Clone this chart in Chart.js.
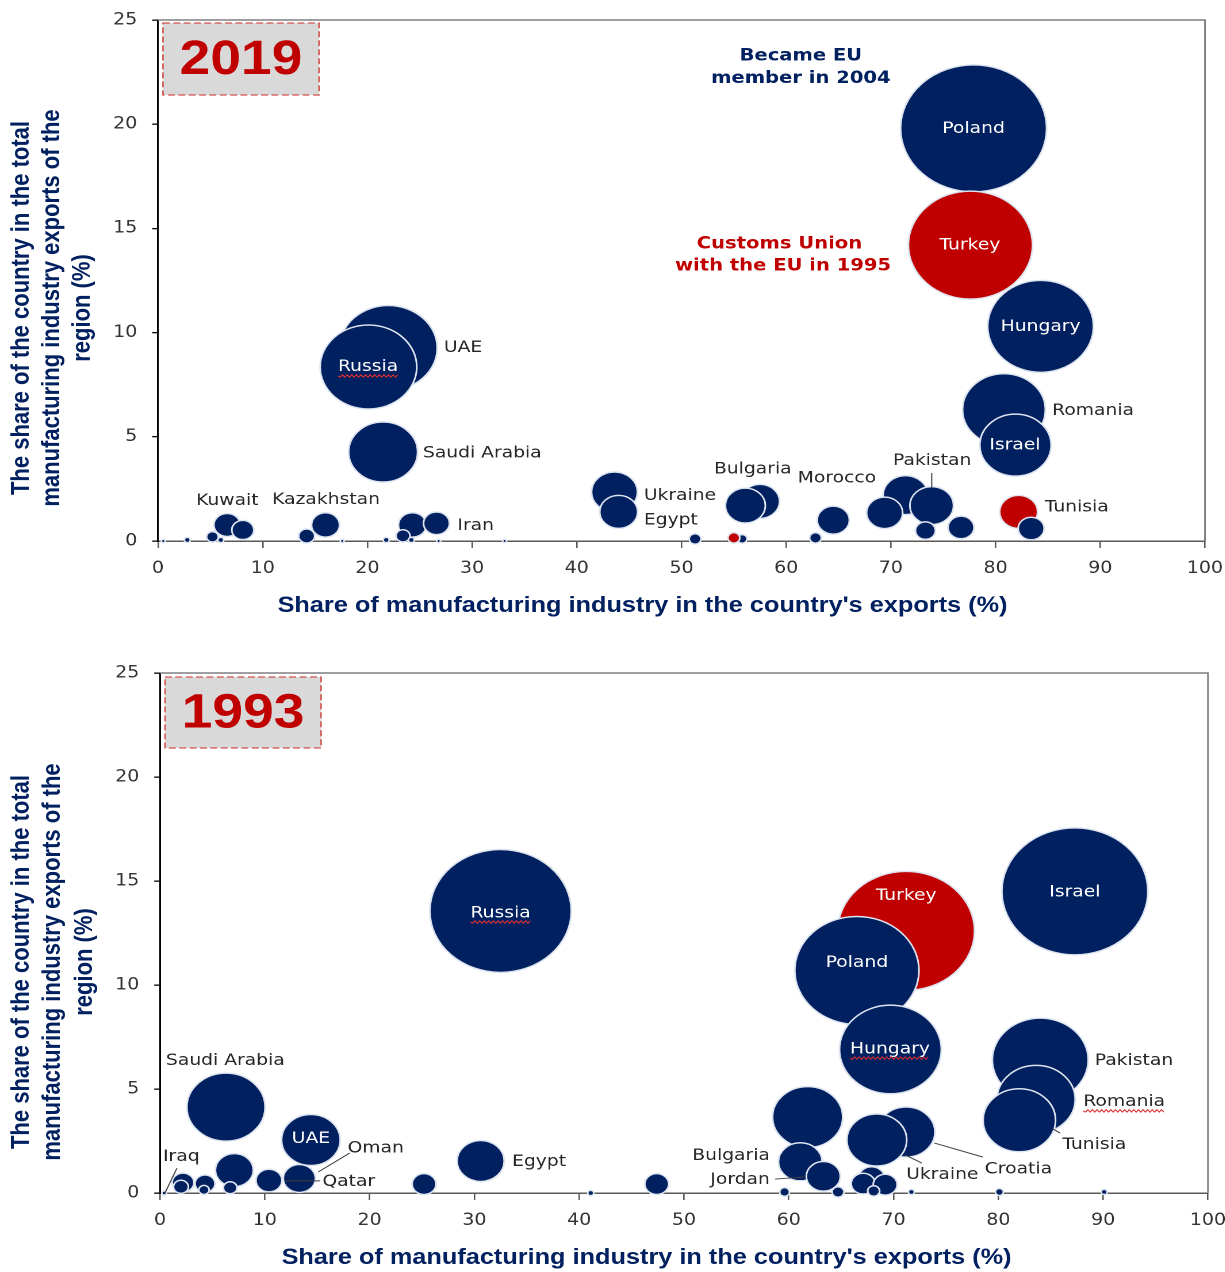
<!DOCTYPE html>
<html lang="en">
<head>
<meta charset="UTF-8">
<title>Manufacturing exports of the region · 2019 vs 1993</title>
<script src="https://cdn.jsdelivr.net/npm/chart.js@4.4.4/dist/chart.umd.min.js"></script>
<style>
  html, body { margin: 0; padding: 0; background: #fff; overflow: hidden; }
  /* The source picture is stretched sideways (round bubbles come out as
     ellipses), so each chart is drawn narrower and widened with CSS. */
  .panel { width: 1065px; height: 636px; transform: scaleX(1.15); transform-origin: 0 0; }
</style>
</head>
<body>
<div class="panel"><canvas id="chart2019"></canvas></div>
<div class="panel"><canvas id="chart1993"></canvas></div>
<script>
const xTicks = [0, 10, 20, 30, 40, 50, 60, 70, 80, 90, 100];
const yTicks = [0, 5, 10, 15, 20, 25];

// 2019: share of manufacturing in exports (x), share of regional
// manufacturing exports (y), bubble size, customs-union flag
const share2019 = [0.5, 2.8, 5.2, 6.0, 6.6, 8.1, 14.2, 16.0, 17.6, 21.8, 22.0, 20.1, 21.5, 24.3, 23.4, 24.2, 26.6, 26.8, 33.1,
    43.6, 44.0, 51.3, 55.8, 55.0, 57.5, 56.1, 62.8, 64.5, 71.4, 69.4, 73.9, 73.3, 76.7, 77.9, 77.6, 84.3, 80.8, 81.9, 82.2, 83.4];
const region2019 = [0, 0.05, 0.2, 0.05, 0.77, 0.53, 0.24, 0.77, 0, 0.05, 9.26, 8.35, 4.27, 0.77, 0.25, 0.05, 0.85, 0, 0,
    2.35, 1.4, 0.1, 0.1, 0.15, 1.9, 1.7, 0.15, 1.0, 2.2, 1.35, 1.7, 0.5, 0.65, 19.8, 14.2, 10.3, 6.3, 4.6, 1.4, 0.6];
const size2019 = [1.7, 2.6, 5.2, 2.6, 11.5, 9.6, 7, 12.2, 1.7, 2.6, 42.5, 42, 30, 12.2, 6.1, 2.6, 11.3, 1.7, 1.7,
    20, 16.5, 5.2, 4.3, 5.2, 17, 17.4, 5.2, 14, 19.5, 15.7, 19, 8.7, 11.3, 63.5, 54, 46, 36, 31, 16.5, 11.3];
const customs2019 = [0, 0, 0, 0, 0, 0, 0, 0, 0, 0, 0, 0, 0, 0, 0, 0, 0, 0, 0,
    0, 0, 0, 0, 1, 0, 0, 0, 0, 0, 0, 0, 0, 0, 0, 1, 0, 0, 0, 1, 0];

// 1993
const share1993 = [0.4, 2.2, 2.0, 4.3, 4.2, 6.3, 7.1, 6.7, 10.4, 14.4, 13.3, 25.2, 30.6, 32.5, 41.1, 47.4, 59.6, 61.8, 61.1, 63.3,
    64.7, 67.9, 67.1, 69.2, 68.1, 71.2, 68.4, 71.2, 66.5, 69.7, 71.7, 80.1, 87.3, 84.0, 83.6, 82.0, 90.1];
const region1993 = [0, 0.5, 0.3, 0.45, 0.15, 4.13, 1.1, 0.25, 0.6, 2.55, 0.7, 0.43, 1.54, 13.56, 0, 0.43, 0.05, 3.65, 1.5, 0.8,
    0.05, 0.72, 0.45, 0.4, 0.1, 2.93, 2.55, 12.6, 10.7, 6.9, 0.05, 0.05, 14.5, 6.4, 4.5, 3.5, 0.05];
const size1993 = [2, 9.5, 6.5, 8.7, 4.5, 34, 16.5, 6, 11.3, 25.5, 14, 10.4, 20.5, 61.5, 2.6, 10.4, 4.3, 30.5, 19, 14.8,
    5.2, 11.3, 10.4, 10.4, 5.2, 25, 26, 59.5, 54, 44.3, 2.6, 3.5, 63.5, 41.7, 34, 31.5, 2.6];
const customs1993 = [0, 0, 0, 0, 0, 0, 0, 0, 0, 0, 0, 0, 0, 0, 0, 0, 0, 0, 0, 0,
    0, 0, 0, 0, 0, 0, 0, 1, 0, 0, 0, 0, 0, 0, 0, 0, 0];

// Country names, placed in data units. inside = white text on the bubble.
const labels2019 = [
    { t: 'Poland', x: 77.9, y: 19.77, inside: true },
    { t: 'Turkey', x: 77.55, y: 14.2, inside: true },
    { t: 'Hungary', x: 84.3, y: 10.27, inside: true },
    { t: 'Israel', x: 81.85, y: 4.6, inside: true },
    { t: 'Russia', x: 20.06, y: 8.35, inside: true, squiggle: true },
    { t: 'UAE', x: 27.3, y: 9.26 },
    { t: 'Saudi Arabia', x: 25.3, y: 4.22 },
    { t: 'Kuwait', x: 3.63, y: 1.92 },
    { t: 'Kazakhstan', x: 10.9, y: 1.97 },
    { t: 'Iran', x: 28.6, y: 0.72 },
    { t: 'Ukraine', x: 46.4, y: 2.16 },
    { t: 'Egypt', x: 46.4, y: 1.0 },
    { t: 'Bulgaria', x: 53.1, y: 3.45 },
    { t: 'Morocco', x: 61.1, y: 3.02 },
    { t: 'Pakistan', x: 70.2, y: 3.84 },
    { t: 'Romania', x: 85.4, y: 6.24 },
    { t: 'Tunisia', x: 84.7, y: 1.63 },
];
const notes2019 = [
    { t: 'Became EU', x: 61.4, y: 23.27, color: '#002060' },
    { t: 'member in 2004', x: 61.4, y: 22.2, color: '#002060' },
    { t: 'Customs Union', x: 59.36, y: 14.25, color: '#c00000' },
    { t: 'with the EU in 1995', x: 59.7, y: 13.2, color: '#c00000' },
];
const leaders2019 = [[73.9, 3.26, 73.9, 2.54]];

const labels1993 = [
    { t: 'Russia', x: 32.5, y: 13.46, inside: true, squiggle: true },
    { t: 'Turkey', x: 71.2, y: 14.28, inside: true },
    { t: 'Israel', x: 87.3, y: 14.47, inside: true },
    { t: 'Poland', x: 66.5, y: 11.06, inside: true },
    { t: 'Hungary', x: 69.66, y: 6.92, inside: true, squiggle: true },
    { t: 'UAE', x: 14.4, y: 2.6, inside: true },
    { t: 'Saudi Arabia', x: 0.57, y: 6.35 },
    { t: 'Oman', x: 17.9, y: 2.16 },
    { t: 'Qatar', x: 15.5, y: 0.53 },
    { t: 'Iraq', x: 0.29, y: 1.73 },
    { t: 'Egypt', x: 33.6, y: 1.49 },
    { t: 'Bulgaria', x: 58.2, y: 1.78, align: 'right' },
    { t: 'Jordan', x: 58.2, y: 0.63, align: 'right' },
    { t: 'Ukraine', x: 71.2, y: 0.87 },
    { t: 'Croatia', x: 78.7, y: 1.15 },
    { t: 'Tunisia', x: 86.1, y: 2.31 },
    { t: 'Romania', x: 88.1, y: 4.38, squiggle: true },
    { t: 'Pakistan', x: 89.2, y: 6.35 },
];
const leaders1993 = [
    [1.62, 1.2, 0.48, 0], [18.1, 1.92, 15.1, 1.01], [15.3, 0.58, 11.9, 0.58], [58.7, 0.67, 61.5, 0.77],
    [71.1, 1.83, 72.7, 1.44], [73.9, 2.4, 78.5, 1.73], [85.2, 3.08, 85.9, 2.88],
];

const NAVY = '#002060';
const RED = '#c00000';
const LABEL_FONT = '16.3px "DejaVu Sans"';
const NOTE_FONT = 'bold 17px "DejaVu Sans"';
const TITLE_FONT = 'bold 22px "Liberation Sans"';
const Y_TITLE = ['The share of the country in the total', 'manufacturing industry exports of the', 'region (%)'];
const X_TITLE = "Share of manufacturing industry in the country's exports (%)";

function drawSquiggle(ctx, x0, x1, y) {
    ctx.save();
    ctx.strokeStyle = '#e03030';
    ctx.lineWidth = 1;
    ctx.beginPath();
    for (let px = x0, up = true; px <= x1; px += 2, up = !up) {
        if (px === x0) ctx.moveTo(px, y); else ctx.lineTo(px, up ? y - 1.2 : y + 1.2);
    }
    ctx.stroke();
    ctx.restore();
}

// Frame, year tag, axis titles, country names and leader lines.
const annotations = {
    id: 'annotations',
    afterDatasetsDraw(chart, args, opts) {
        const { ctx, chartArea: a } = chart;
        const sx = chart.scales.x;
        const sy = chart.scales.y;
        ctx.save();

        ctx.strokeStyle = '#7f7f7f';
        ctx.lineWidth = 1.5;
        ctx.beginPath();
        ctx.moveTo(a.left, a.top);
        ctx.lineTo(a.right, a.top);
        ctx.lineTo(a.right, a.bottom);
        ctx.stroke();

        const b = opts.yearBox;
        ctx.fillStyle = '#d9d9d9';
        ctx.fillRect(a.left + b.dx, a.top + b.dy, b.w, b.h);
        ctx.setLineDash([6, 3]);
        ctx.strokeStyle = '#d0504d';
        ctx.lineWidth = 1.3;
        ctx.strokeRect(a.left + b.dx, a.top + b.dy, b.w, b.h);
        ctx.setLineDash([]);
        ctx.fillStyle = RED;
        ctx.font = 'bold 48px "Liberation Sans"';
        ctx.textAlign = 'center';
        ctx.textBaseline = 'middle';
        ctx.fillText(opts.year, a.left + b.dx + b.w / 2, a.top + b.dy + b.h / 2 + 2);

        ctx.fillStyle = NAVY;
        ctx.font = TITLE_FONT;
        ctx.fillText(X_TITLE, opts.xTitle[0], opts.xTitle[1]);
        ctx.save();
        ctx.translate(0, opts.yTitleY);
        ctx.rotate(-Math.PI / 2);
        Y_TITLE.forEach((line, i) => ctx.fillText(line, 0, opts.yTitleX[i]));
        ctx.restore();

        ctx.strokeStyle = '#404040';
        ctx.lineWidth = 1;
        for (const [x0, y0, x1, y1] of opts.leaders) {
            ctx.beginPath();
            ctx.moveTo(sx.getPixelForValue(x0), sy.getPixelForValue(y0));
            ctx.lineTo(sx.getPixelForValue(x1), sy.getPixelForValue(y1));
            ctx.stroke();
        }

        ctx.font = LABEL_FONT;
        for (const l of opts.labels) {
            const px = sx.getPixelForValue(l.x);
            const py = sy.getPixelForValue(l.y);
            ctx.textAlign = l.inside ? 'center' : (l.align || 'left');
            ctx.fillStyle = l.inside ? '#ffffff' : '#262626';
            ctx.fillText(l.t, px, py);
            if (l.squiggle) {
                const w = ctx.measureText(l.t).width;
                const left = ctx.textAlign === 'center' ? px - w / 2 : px;
                drawSquiggle(ctx, left, left + w, py + 9);
            }
        }

        ctx.font = NOTE_FONT;
        ctx.textAlign = 'center';
        for (const n of opts.notes) {
            ctx.fillStyle = n.color;
            ctx.fillText(n.t, sx.getPixelForValue(n.x), sy.getPixelForValue(n.y));
        }
        ctx.restore();
    },
};

function makeChart(id, xs, ys, rs, cu, layout, annot) {
    const points = xs.map((x, i) => ({ x, y: ys[i], r: rs[i] }));
    const axisTicks = { color: '#333333', font: { family: 'DejaVu Sans', size: 16.5 } };
    return new Chart(document.getElementById(id), {
        type: 'bubble',
        data: {
            datasets: [{
                data: points,
                backgroundColor: cu.map((c) => (c ? RED : NAVY)),
                borderColor: '#dde4f0',
                borderWidth: 1.5,
                hoverRadius: 0,
                clip: false,
            }],
        },
        options: {
            responsive: true,
            maintainAspectRatio: false,
            animation: false,
            devicePixelRatio: 2,
            events: [],
            // autoPadding off: the big bubbles would otherwise push the axes inward
            layout: { autoPadding: false, padding: { top: layout.top, right: layout.right, left: 0, bottom: 0 } },
            scales: {
                x: {
                    type: 'linear', min: 0, max: 100,
                    afterBuildTicks: (s) => { s.ticks = xTicks.map((value) => ({ value })); },
                    afterFit: (s) => { s.height = layout.xHeight; s.paddingLeft = 0; s.paddingRight = 0; },
                    ticks: { ...axisTicks, padding: 11, maxRotation: 0 },
                    grid: { drawOnChartArea: false, tickLength: 7, color: '#595959', lineWidth: 1.3 },
                    border: { color: '#595959', width: 1.5 },
                },
                y: {
                    type: 'linear', min: 0, max: 25,
                    afterBuildTicks: (s) => { s.ticks = yTicks.map((value) => ({ value })); },
                    afterFit: (s) => { s.width = layout.yWidth; s.paddingTop = 0; s.paddingBottom = 0; },
                    ticks: { ...axisTicks, padding: 13 },
                    grid: { drawOnChartArea: false, tickLength: 5, color: '#000', lineWidth: 1.3 },
                    border: { color: '#000', width: 1.5 },
                },
            },
            plugins: { legend: { display: false }, tooltip: { enabled: false }, annotations: annot },
        },
        plugins: [annotations],
    });
}

makeChart('chart2019', share2019, region2019, size2019, customs2019,
    { top: 20, right: 17.2, yWidth: 137.4, xHeight: 95 },
    {
        year: '2019', yearBox: { dx: 4.3, dy: 3, w: 135.7, h: 72 },
        xTitle: [558.7, 606], yTitleX: [19, 45.5, 72], yTitleY: 308,
        labels: labels2019, notes: notes2019, leaders: leaders2019,
    });

makeChart('chart1993', share1993, region1993, size1993, customs1993,
    { top: 37, right: 14.6, yWidth: 139.1, xHeight: 79 },
    {
        year: '1993', yearBox: { dx: 4.4, dy: 4, w: 135.7, h: 71 },
        xTitle: [562.2, 622], yTitleX: [19, 46, 74], yTitleY: 326,
        labels: labels1993, notes: [], leaders: leaders1993,
    });
</script>
</body>
</html>
